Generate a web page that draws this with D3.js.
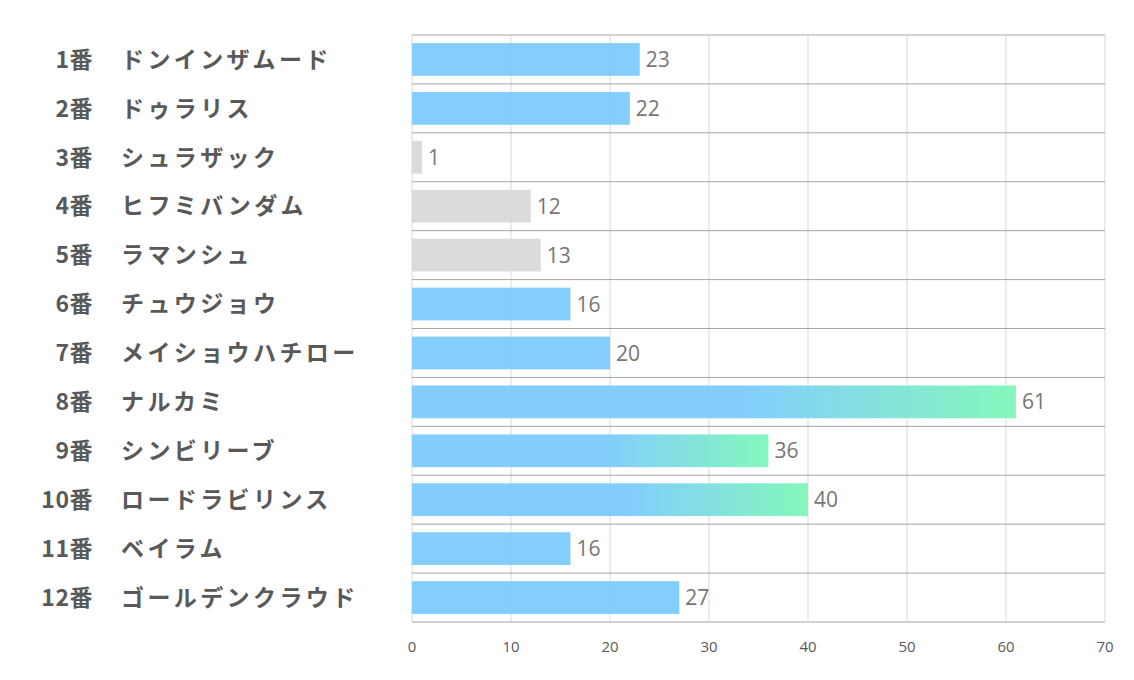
<!DOCTYPE html>
<html>
<head>
<meta charset="utf-8">
<script src="https://cdn.jsdelivr.net/npm/d3@7"></script>
<style>
  body { margin: 0; background: #fff; }
</style>
</head>
<body>
<script>
const width = 1134;
const height = 680;

const numbers = ["1番", "2番", "3番", "4番", "5番", "6番", "7番", "8番", "9番", "10番", "11番", "12番"];
const horses = ["ドンインザムード", "ドゥラリス", "シュラザック", "ヒフミバンダム", "ラマンシュ", "チュウジョウ",
                "メイショウハチロー", "ナルカミ", "シンビリーブ", "ロードラビリンス", "ベイラム", "ゴールデンクラウド"];
const values = [23, 22, 1, 12, 13, 16, 20, 61, 36, 40, 16, 27];
// bar style per row: "blue", "gray", "grad"
const styles = ["blue", "blue", "gray", "gray", "gray", "blue", "blue", "grad", "grad", "grad", "blue", "blue"];
const ticks = [0, 10, 20, 30, 40, 50, 60, 70];

const margin = {top: 35, right: 29, bottom: 58, left: 412};

const svg = d3.select('body')
  .append('svg')
  .attr('width', width)
  .attr('height', height);

const x = d3.scaleLinear()
  .domain([0, 70])
  .range([margin.left, width - margin.right]);

const y = d3.scaleBand()
  .domain(d3.range(values.length))
  .range([margin.top, height - margin.bottom])
  .paddingInner(0.33)
  .paddingOuter(0.165);

const rowStep = y.step();

// gradient for the highlighted bars
const defs = svg.append('defs');
const grad = defs.append('linearGradient')
  .attr('id', 'grad')
  .attr('x1', '0%').attr('x2', '100%')
  .attr('y1', '0%').attr('y2', '0%');
grad.append('stop').attr('offset', '55%').attr('stop-color', '#7ccbfd');
grad.append('stop').attr('offset', '100%').attr('stop-color', '#7ef7b8');

const fills = {blue: '#7ccbfd', gray: '#d9d9d9', grad: 'url(#grad)'};

// vertical gridlines
svg.append('g')
  .selectAll('line')
  .data(ticks)
  .enter().append('line')
  .attr('x1', d => x(d)).attr('x2', d => x(d))
  .attr('y1', margin.top).attr('y2', height - margin.bottom)
  .attr('stroke', '#d9d9d9')
  .attr('stroke-width', 1);

// bars
svg.append('g')
  .selectAll('rect')
  .data(values)
  .enter().append('rect')
  .attr('x', x(0))
  .attr('y', (d, i) => y(i))
  .attr('width', d => x(d) - x(0))
  .attr('height', y.bandwidth())
  .attr('fill', (d, i) => fills[styles[i]])
  .attr('fill-opacity', 0.95);

// horizontal row separators
const seps = d3.range(values.length + 1);
svg.append('g')
  .selectAll('line')
  .data(seps)
  .enter().append('line')
  .attr('x1', x(0)).attr('x2', x(70))
  .attr('y1', d => margin.top + d * rowStep)
  .attr('y2', d => margin.top + d * rowStep)
  .attr('stroke', '#a6a6a6')
  .attr('stroke-width', 1);

// value labels
svg.append('g')
  .selectAll('text')
  .data(values)
  .enter().append('text')
  .attr('x', d => x(d) + 6)
  .attr('y', (d, i) => y(i) + y.bandwidth() / 2)
  .attr('dy', '0.36em')
  .style('font-family', '"Open Sans", sans-serif')
  .style('font-size', '21px')
  .style('fill', '#767676')
  .text(d => d);

// row labels: number + horse name
const rows = svg.append('g')
  .selectAll('g')
  .data(values)
  .enter().append('g')
  .attr('transform', (d, i) => 'translate(0,' + (y(i) + y.bandwidth() / 2) + ')');

rows.append('text')
  .attr('x', 93)
  .attr('dy', '0.36em')
  .attr('text-anchor', 'end')
  .style('font-family', '"Noto Sans CJK JP", sans-serif')
  .style('font-size', '23px')
  .style('font-weight', 'bold')
  .style('letter-spacing', '0.5px')
  .style('fill', '#595959')
  .text((d, i) => numbers[i]);

rows.append('text')
  .attr('x', 121)
  .attr('dy', '0.36em')
  .style('font-family', '"Noto Sans CJK JP", sans-serif')
  .style('font-size', '23px')
  .style('font-weight', 'bold')
  .style('letter-spacing', '3.4px')
  .style('fill', '#595959')
  .text((d, i) => horses[i]);

// x axis tick labels
svg.append('g')
  .selectAll('text')
  .data(ticks)
  .enter().append('text')
  .attr('x', d => x(d))
  .attr('y', 647)
  .attr('dy', '0.36em')
  .attr('text-anchor', 'middle')
  .style('font-family', '"Open Sans", sans-serif')
  .style('font-size', '15px')
  .style('fill', '#595959')
  .text(d => d);
</script>
</body>
</html>
